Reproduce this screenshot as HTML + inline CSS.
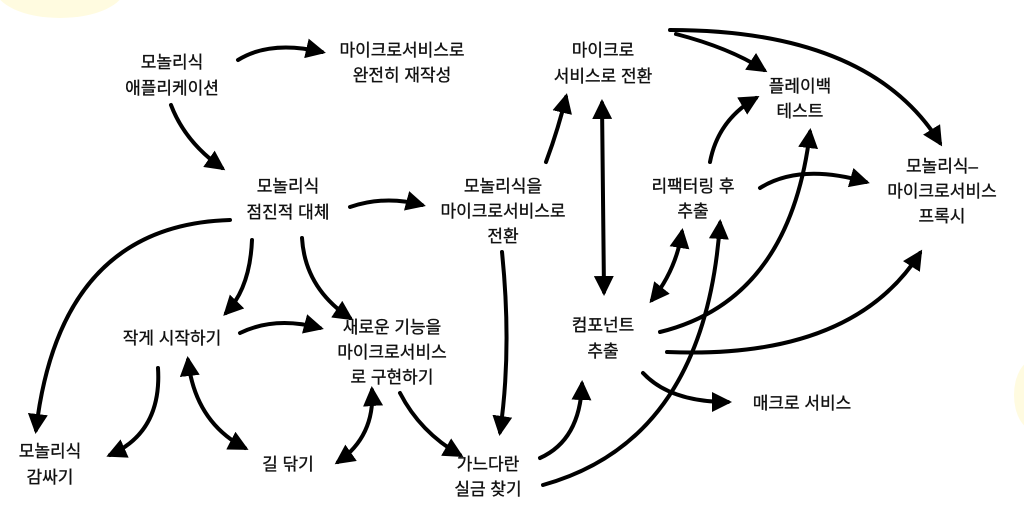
<!DOCTYPE html>
<html><head><meta charset="utf-8"><style>
html,body{margin:0;padding:0;background:#fff}
svg{display:block}
text{font-family:"Liberation Sans","Noto Sans CJK KR",sans-serif;font-size:17px;fill:#111;stroke:#111;stroke-width:0.35;text-anchor:middle}
path{fill:none;stroke:#000;stroke-width:4;stroke-linecap:round}
</style></head><body>
<svg width="1024" height="510" viewBox="0 0 1024 510" xmlns="http://www.w3.org/2000/svg">
<defs>
<marker id="a" viewBox="0 0 10 10" refX="8" refY="5" markerWidth="5" markerHeight="5" orient="auto-start-reverse" markerUnits="strokeWidth">
<path d="M0,0 L10,5 L0,10 Z" style="fill:#000;stroke:none"/></marker>
</defs>
<ellipse cx="60" cy="-12" rx="65" ry="30" fill="#fffbe0"/>
<ellipse cx="1034" cy="395" rx="20" ry="35" fill="#fffbe0"/>
<g>
<path d="M238,60 Q270,40 322,52" marker-end="url(#a)"/>
<path d="M171,105 Q185,142 222,168" marker-end="url(#a)"/>
<path d="M350,207 Q385,195 422,205" marker-end="url(#a)"/>
<path d="M230,220 Q60,225 36,430" marker-end="url(#a)"/>
<path d="M252,240 Q250,288 226,313" marker-end="url(#a)"/>
<path d="M302,238 Q305,288 350,318" marker-end="url(#a)"/>
<path d="M240,333 Q275,316 320,328" marker-end="url(#a)"/>
<path d="M158,368 Q162,432 110,455" marker-end="url(#a)"/>
<path d="M188,360 Q195,422 245,448" marker-start="url(#a)" marker-end="url(#a)"/>
<path d="M338,462 Q375,436 372,390" marker-start="url(#a)" marker-end="url(#a)"/>
<path d="M400,393 Q420,432 460,455" marker-end="url(#a)"/>
<path d="M502,252 Q512,350 500,432" marker-end="url(#a)"/>
<path d="M540,458 Q580,440 582,384" marker-end="url(#a)"/>
<path d="M546,162 Q558,130 566,97" marker-end="url(#a)"/>
<path d="M602,103 L604,292" marker-start="url(#a)" marker-end="url(#a)"/>
<path d="M670,30 Q870,30 940,143" marker-end="url(#a)"/>
<path d="M676,34 Q730,48 764,70" marker-end="url(#a)"/>
<path d="M710,162 Q718,120 756,98" marker-end="url(#a)"/>
<path d="M652,300 Q676,270 682,232" marker-start="url(#a)" marker-end="url(#a)"/>
<path d="M543,485 Q705,440 720,223" marker-end="url(#a)"/>
<path d="M660,332 Q790,300 810,132" marker-end="url(#a)"/>
<path d="M760,188 Q800,163 866,182" marker-end="url(#a)"/>
<path d="M667,352 Q852,360 920,253" marker-end="url(#a)"/>
<path d="M643,373 Q670,402 728,402" marker-end="url(#a)"/>
</g>
<text x="172" y="68">모놀리식</text><text x="172" y="94">애플리케이션</text>
<text x="402" y="56">마이크로서비스로</text><text x="402" y="81">완전히 재작성</text>
<text x="288" y="192">모놀리식</text><text x="288" y="218">점진적 대체</text>
<text x="503" y="192">모놀리식을</text><text x="503" y="217">마이크로서비스로</text><text x="503" y="242">전환</text>
<text x="603" y="56">마이크로</text><text x="603" y="82">서비스로 전환</text>
<text x="800" y="92">플레이백</text><text x="800" y="117">테스트</text>
<text x="693" y="192">리팩터링 후</text><text x="693" y="217">추출</text>
<text x="942" y="172">모놀리식–</text><text x="942" y="197">마이크로서비스</text><text x="942" y="222">프록시</text>
<text x="172" y="344">작게 시작하기</text>
<text x="392" y="333">새로운 기능을</text><text x="392" y="358">마이크로서비스</text><text x="392" y="383">로 구현하기</text>
<text x="603" y="331">컴포넌트</text><text x="603" y="357">추출</text>
<text x="802" y="409">매크로 서비스</text>
<text x="50" y="457">모놀리식</text><text x="50" y="483">감싸기</text>
<text x="288" y="470">길 닦기</text>
<text x="488" y="470">가느다란</text><text x="488" y="495">실금 찾기</text>
</svg>
</body></html>
